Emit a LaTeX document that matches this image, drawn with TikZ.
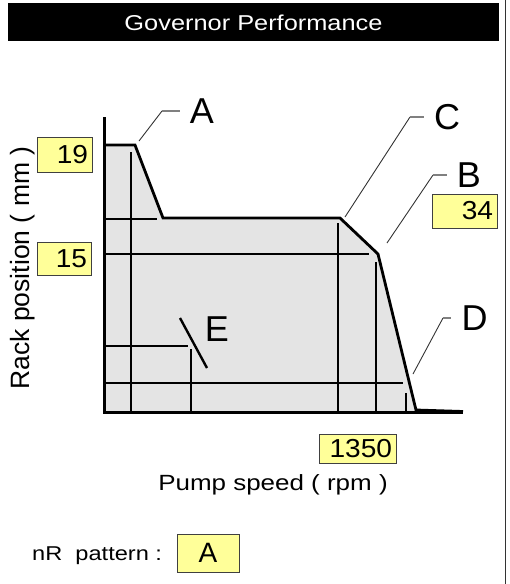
\documentclass[tikz,border=0pt]{standalone}
\usepackage{fontspec}
\setmainfont{Liberation Sans}
\newfontfamily\widesans[FakeStretch=1.18]{Liberation Sans}
\newfontfamily\digitsans[FakeStretch=1.08]{Liberation Sans}
\definecolor{boxyellow}{HTML}{FFFF99}
\definecolor{areagray}{HTML}{E4E4E4}
\begin{document}
\begin{tikzpicture}[x=1pt,y=-1pt,
  valbox/.style={draw=black!75, fill=boxyellow, line width=0.8pt,
    inner xsep=4pt, inner ysep=0pt, align=right,
    font=\digitsans\fontsize{26}{26}\selectfont},
  letter/.style={font=\fontsize{36}{36}\selectfont, inner xsep=10pt, inner ysep=0pt},
  leader/.style={line width=0.9pt, black!80},
  stub/.style={line width=1.2pt, black!50},
  grid/.style={line width=1.1pt},
  axis/.style={line width=3pt},
  curve/.style={line width=2.8pt}]
\useasboundingbox (0,0) rectangle (510,584);

% title bar and frame
\fill (8,3) rectangle (499,41);
\node[white, anchor=base, inner sep=0pt, font=\widesans\fontsize{21.5}{21.5}\selectfont]
  (title) at (253.5,30) {Governor Performance};
\draw[line width=1pt, black!80] (505,0) -- (505,584);

% area under the curve
\fill[areagray] (104,145) -- (135,145) -- (163,218) -- (340,218) -- (378,254)
  -- (416,410) -- (416,412) -- (104,412) -- cycle;

% thin lines
\draw[grid] (131,152) -- (131,412);
\draw[grid] (104,219) -- (157,219);
\draw[grid] (104,254) -- (369,254);
\draw[grid] (338,223) -- (338,412);
\draw[grid] (376,262) -- (376,412);
\draw[grid] (104,346) -- (188,346);
\draw[grid] (191,349) -- (191,412);
\draw[grid] (104,383) -- (403,383);
\draw[grid] (406,393) -- (406,412);

% axes and curve
\draw[axis] (104,117) -- (104,412) -- (463,412);
\draw[curve] (104,145) -- (135,145) -- (163,218) -- (340,218) -- (378,254)
  -- (416,410) -- (463,411.5);
\draw[curve, line width=2.4pt] (180,318) -- (207,368);

% labels
\node[letter] (labA) at (202,111) {A};
\node[letter] (labC) at (447,117) {C};
\node[letter] (labB) at (469,175) {B};
\node[letter] (labD) at (474.5,318) {D};
\node[letter, inner xsep=0pt] (labE) at (217,329) {E};

\coordinate (ptA) at (139,141);
\coordinate (ptC) at (345,217);
\coordinate (ptB) at (387,243);
\coordinate (ptD) at (413,374);
\coordinate (kneeA) at (162,111);
\coordinate (kneeC) at (410,117);
\coordinate (kneeB) at (433,175);
\coordinate (kneeD) at (443,318);

\draw[leader] (ptA) -- (kneeA);
\draw[stub] (kneeA) -- (labA.west);
\draw[leader] (ptC) -- (kneeC);
\draw[stub] (kneeC) -- (labC.west);
\draw[leader] (ptB) -- (kneeB);
\draw[stub] (kneeB) -- (labB.west);
\draw[leader] (ptD) -- (kneeD);
\draw[stub] (kneeD) -- (labD.west);

% value boxes
\node[valbox, text width=47pt, minimum height=35pt] (v19) at (64.5,154.5) {19};
\node[valbox, text width=46pt, minimum height=33pt] (v15) at (64,258.5) {15};
\node[valbox, text width=57pt, minimum height=34pt] (v34) at (464.5,211) {34};
\node[valbox, text width=69pt, minimum height=29pt] (v1350) at (357.5,448.5) {1350};

% axis titles
\node[rotate=90, anchor=base, inner sep=0pt, font=\fontsize{26.5}{26.5}\selectfont]
  (ylab) at (30,268) {Rack position ( mm )};
\node[anchor=base, inner sep=0pt, font=\widesans\fontsize{22}{22}\selectfont]
  (xlab) at (273,490) {Pump speed ( rpm )};

% pattern
\node[anchor=base west, inner sep=0pt, font=\widesans\fontsize{20}{20}\selectfont]
  (pat) at (32,560) {nR\ \ pattern :};
\node[draw=black!75, fill=boxyellow, line width=0.8pt, minimum width=62pt,
  minimum height=38pt, inner sep=0pt, font=\fontsize{28}{28}\selectfont]
  (patA) at (208,553) {A};
\end{tikzpicture}
\end{document}
